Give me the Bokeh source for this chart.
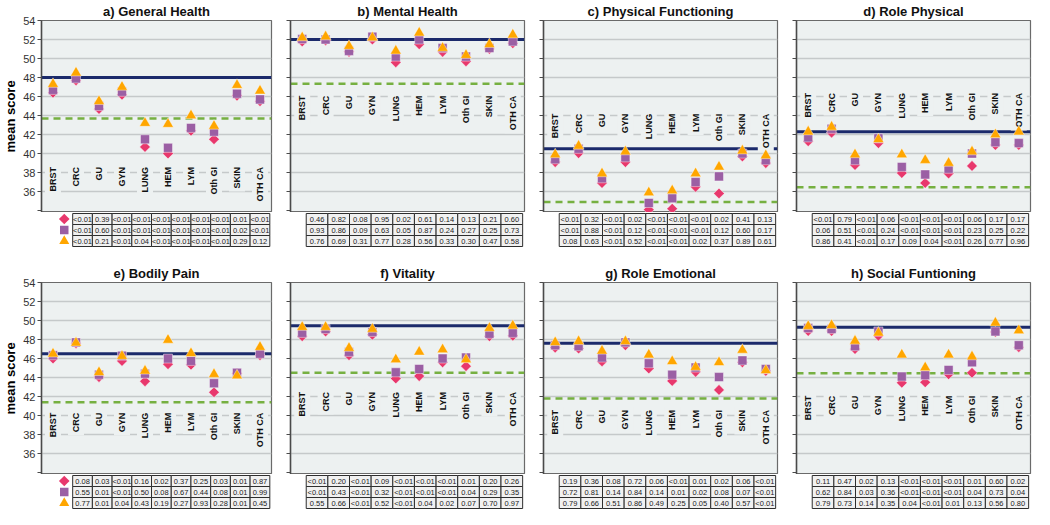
import math
from bokeh.plotting import figure
from bokeh.models import Range1d, FactorRange, FixedTicker, Span, Spacer
from bokeh.layouts import column, row
from bokeh.core.properties import value
from bokeh.embed import file_html
from bokeh.resources import INLINE

# ---------------- data ----------------
categories = ["BRST", "CRC", "GU", "GYN", "LUNG", "HEM", "LYM", "Oth GI", "SKIN", "OTH CA"]
panel_titles = ["a) General Health", "b) Mental Health", "c) Physical Functioning", "d) Role Physical",
                "e) Bodily Pain", "f) Vitality", "g) Role Emotional", "h) Social Funtioning"]
y_ticks = [34, 36, 38, 40, 42, 44, 46, 48, 50, 52, 54]
y_tick_labels = ["", "36", "38", "40", "42", "44", "46", "48", "50", "52", "54"]

# solid navy reference line and green dashed reference line, per panel
reference_solid = [48.0, 52.0, 40.5, 42.3, 46.5, 49.45, 47.6, 49.3]
reference_dashed = [43.7, 47.35, 34.9, 36.45, 41.4, 44.5, 41.8, 44.45]

# a) General Health
gh_diamond = [46.4, 47.7, 44.7, 46.2, 40.7, 40.0, 42.4, 41.5, 46.1, 45.5]
gh_square = [46.7, 47.9, 45.0, 46.5, 41.5, 40.6, 42.7, 42.3, 46.3, 45.7]
gh_triangle = [47.3, 48.5, 45.5, 47.0, 43.2, 43.1, 44.0, 42.9, 47.2, 46.6]
gh_p_diamond = ["<0.01", "0.39", "<0.01", "<0.01", "<0.01", "<0.01", "<0.01", "<0.01", "0.01", "<0.01"]
gh_p_square = ["<0.01", "0.60", "<0.01", "<0.01", "<0.01", "<0.01", "<0.01", "<0.01", "0.02", "<0.01"]
gh_p_triangle = ["<0.01", "0.21", "<0.01", "0.04", "<0.01", "<0.01", "<0.01", "<0.01", "0.29", "0.12"]

# b) Mental Health
mh_diamond = [51.8, 51.9, 50.7, 52.0, 49.6, 51.5, 50.7, 49.7, 51.0, 51.6]
mh_square = [52.05, 52.0, 50.8, 52.3, 50.2, 52.0, 51.1, 50.2, 51.1, 51.8]
mh_triangle = [52.2, 52.3, 51.3, 52.2, 50.8, 52.7, 51.1, 50.35, 51.5, 52.5]
mh_p_diamond = ["0.46", "0.82", "0.08", "0.95", "0.02", "0.61", "0.14", "0.13", "0.21", "0.60"]
mh_p_square = ["0.93", "0.86", "0.09", "0.63", "0.05", "0.87", "0.24", "0.27", "0.25", "0.73"]
mh_p_triangle = ["0.76", "0.69", "0.31", "0.77", "0.28", "0.56", "0.33", "0.30", "0.47", "0.58"]

# c) Physical Functioning
pf_diamond = [39.1, 40.05, 36.9, 39.1, 34.1, 34.2, 36.5, 35.8, 39.7, 39.0]
pf_square = [39.4, 40.5, 37.4, 39.6, 34.8, 35.3, 37.0, 37.6, 40.0, 39.3]
pf_triangle = [39.9, 40.8, 37.9, 40.2, 35.9, 36.1, 37.9, 38.6, 40.3, 39.8]
pf_p_diamond = ["<0.01", "0.32", "<0.01", "0.02", "<0.01", "<0.01", "<0.01", "0.02", "0.41", "0.13"]
pf_p_square = ["<0.01", "0.88", "<0.01", "0.12", "<0.01", "<0.01", "<0.01", "0.12", "0.60", "0.17"]
pf_p_triangle = ["0.08", "0.63", "<0.01", "0.52", "<0.01", "<0.01", "0.02", "0.37", "0.89", "0.61"]

# d) Role Physical
rp_diamond = [41.3, 42.2, 38.8, 41.1, 37.95, 36.9, 37.9, 38.7, 40.9, 40.9]
rp_square = [41.7, 42.6, 39.3, 41.6, 38.6, 37.8, 38.4, 40.0, 41.2, 41.1]
rp_triangle = [42.3, 42.8, 39.9, 41.5, 39.9, 39.3, 39.0, 40.2, 42.0, 42.3]
rp_p_diamond = ["<0.01", "0.79", "<0.01", "0.06", "<0.01", "<0.01", "<0.01", "0.06", "0.17", "0.17"]
rp_p_square = ["0.06", "0.51", "<0.01", "0.24", "<0.01", "<0.01", "<0.01", "0.23", "0.25", "0.22"]
rp_p_triangle = ["0.86", "0.41", "<0.01", "0.17", "0.09", "0.04", "<0.01", "0.26", "0.77", "0.96"]

# e) Bodily Pain
bp_diamond = [46.0, 47.6, 44.05, 45.75, 43.6, 45.4, 45.35, 42.45, 44.45, 46.35]
bp_square = [46.35, 47.7, 44.3, 46.3, 44.4, 46.0, 45.75, 43.4, 44.5, 46.5]
bp_triangle = [46.5, 47.65, 44.55, 46.25, 44.7, 47.95, 46.55, 44.35, 44.2, 47.2]
bp_p_diamond = ["0.08", "0.03", "<0.01", "0.16", "0.02", "0.37", "0.25", "0.03", "0.01", "0.87"]
bp_p_square = ["0.55", "0.01", "<0.01", "0.50", "0.08", "0.67", "0.44", "0.08", "0.01", "0.99"]
bp_p_triangle = ["0.77", "0.01", "0.04", "0.43", "0.19", "0.27", "0.93", "0.28", "0.01", "0.45"]

# f) Vitality
vt_diamond = [48.35, 48.85, 46.35, 48.5, 43.9, 44.15, 45.6, 45.2, 48.35, 48.4]
vt_square = [48.7, 49.1, 46.7, 48.8, 44.55, 44.9, 46.0, 46.1, 48.6, 48.7]
vt_triangle = [49.3, 49.3, 47.1, 49.1, 45.9, 46.7, 46.95, 45.9, 49.2, 49.45]
vt_p_diamond = ["<0.01", "0.20", "<0.01", "0.09", "<0.01", "<0.01", "<0.01", "0.01", "0.20", "0.26"]
vt_p_square = ["<0.01", "0.43", "<0.01", "0.32", "<0.01", "<0.01", "<0.01", "0.04", "0.29", "0.35"]
vt_p_triangle = ["0.55", "0.66", "<0.01", "0.52", "<0.01", "0.04", "0.02", "0.07", "0.70", "0.97"]

# g) Role Emotional
re_diamond = [47.15, 47.05, 45.7, 47.4, 44.95, 43.65, 44.6, 42.7, 45.6, 44.7]
re_square = [47.4, 47.3, 46.1, 47.7, 45.5, 44.3, 45.05, 44.05, 45.8, 44.9]
re_triangle = [47.7, 47.8, 46.8, 47.8, 46.4, 45.7, 45.1, 45.6, 46.9, 44.75]
re_p_diamond = ["0.19", "0.36", "0.08", "0.72", "0.06", "<0.01", "0.01", "0.02", "0.06", "<0.01"]
re_p_square = ["0.72", "0.81", "0.14", "0.84", "0.14", "0.01", "0.02", "0.08", "0.07", "<0.01"]
re_p_triangle = ["0.79", "0.66", "0.51", "0.86", "0.49", "0.25", "0.05", "0.40", "0.57", "<0.01"]

# h) Social Funtioning
sf_diamond = [48.9, 48.9, 47.0, 48.4, 43.45, 43.5, 44.35, 44.5, 48.8, 47.2]
sf_square = [49.2, 49.1, 47.3, 48.85, 44.1, 44.25, 44.8, 45.6, 48.85, 47.4]
sf_triangle = [49.4, 49.5, 47.85, 48.7, 46.4, 45.05, 46.4, 46.2, 49.75, 48.95]
sf_p_diamond = ["0.11", "0.47", "0.02", "0.13", "<0.01", "<0.01", "<0.01", "0.01", "0.60", "0.02"]
sf_p_square = ["0.62", "0.84", "0.03", "0.36", "<0.01", "<0.01", "<0.01", "0.04", "0.73", "0.04"]
sf_p_triangle = ["0.79", "0.73", "0.14", "0.35", "0.04", "<0.01", "0.01", "0.13", "0.56", "0.80"]

# where the rotated category names hang from (top of text), per panel
category_label_top = [38.9, 46.4, 44.5, 46.7, 40.6, 42.8, 40.9, 42.4]

# ---------------- style / layout ----------------
BG = "#edf1f1"
C_DIAMOND = "#e8386d"
C_SQUARE = "#9b5fa4"
C_TRIANGLE = "#ffa600"
C_SOLID = "#1b2a6b"
C_DASHED = "#76b041"
FRAME_W = 234
FRAME_H = 193
RIGHT = 2
TOP = 19
TABLE_ROW = 11
TABLE_H = 35
FONT = "Liberation Sans"

series = [
    (gh_diamond, gh_square, gh_triangle, gh_p_diamond, gh_p_square, gh_p_triangle),
    (mh_diamond, mh_square, mh_triangle, mh_p_diamond, mh_p_square, mh_p_triangle),
    (pf_diamond, pf_square, pf_triangle, pf_p_diamond, pf_p_square, pf_p_triangle),
    (rp_diamond, rp_square, rp_triangle, rp_p_diamond, rp_p_square, rp_p_triangle),
    (bp_diamond, bp_square, bp_triangle, bp_p_diamond, bp_p_square, bp_p_triangle),
    (vt_diamond, vt_square, vt_triangle, vt_p_diamond, vt_p_square, vt_p_triangle),
    (re_diamond, re_square, re_triangle, re_p_diamond, re_p_square, re_p_triangle),
    (sf_diamond, sf_square, sf_triangle, sf_p_diamond, sf_p_square, sf_p_triangle),
]


def add_markers(fig, x, y1, y2, y3):
    fig.scatter(x=x, y=y1, marker="square", angle=math.pi / 4, size=7.5,
                fill_color=C_DIAMOND, line_color="white", line_width=0.6, line_alpha=0.7)
    fig.scatter(x=x, y=y2, marker="square", size=9,
                fill_color=C_SQUARE, line_color="white", line_width=0.6, line_alpha=0.7)
    fig.scatter(x=x, y=y3, marker="triangle", size=11,
                fill_color=C_TRIANGLE, line_color="white", line_width=0.6, line_alpha=0.7)


def make_panel(i):
    d1, d2, d3, p1, p2, p3 = series[i]
    first_col = (i % 4 == 0)
    left = 37 if first_col else 17
    width = left + FRAME_W + RIGHT
    n = len(categories)

    p = figure(width=width, height=TOP + FRAME_H, title=panel_titles[i],
               x_range=FactorRange(*categories), y_range=Range1d(33.8, 54),
               output_backend="svg", toolbar_location=None,
               min_border_left=left, min_border_right=RIGHT, min_border_top=TOP,
               min_border_bottom=0, x_axis_location=None,
               background_fill_color=BG, border_fill_color="white",
               outline_line_color="#6a6a6a", outline_line_width=1.2)
    p.title.align = "center"
    p.title.text_font = FONT
    p.title.text_font_size = "13px"
    p.title.text_font_style = "bold"
    p.title.text_color = "#111111"
    p.title.standoff = 3

    ax = p.yaxis[0]
    ax.ticker = FixedTicker(ticks=y_ticks)
    if first_col:
        ax.major_label_overrides = {t: lab for t, lab in zip(y_ticks, y_tick_labels)}
        ax.axis_label = "mean score"
        ax.axis_label_text_font = FONT
        ax.axis_label_text_font_style = "bold"
        ax.axis_label_text_font_size = "13px"
        ax.axis_label_text_color = "#000000"
        ax.axis_label_standoff = 2
    else:
        ax.major_label_overrides = {t: "" for t in y_ticks}
    ax.major_label_text_font = FONT
    ax.major_label_text_font_size = "11px"
    ax.major_label_text_color = "#333333"
    ax.major_label_standoff = 2
    ax.major_tick_out = 4
    ax.major_tick_in = 0
    ax.minor_tick_out = 0
    ax.minor_tick_in = 0
    ax.axis_line_color = "#4a4a4a"
    ax.axis_line_width = 1.5
    ax.major_tick_line_color = "#4a4a4a"

    p.xgrid.visible = False
    p.ygrid.ticker = FixedTicker(ticks=[t for t in y_ticks if 34 < t < 54])
    p.ygrid.grid_line_color = "#c5c9ca"
    p.ygrid.grid_line_width = 1.5

    p.add_layout(Span(location=reference_solid[i], dimension="width", line_color=C_SOLID,
                      line_width=3, level="underlay"))
    p.add_layout(Span(location=reference_dashed[i], dimension="width", line_color=C_DASHED,
                      line_width=2.5, line_dash="7 5", level="underlay"))

    p.text(x=categories, y=[category_label_top[i]] * n, text=categories,
           angle=math.pi / 2, text_align="right", text_baseline="middle",
           text_font=value(FONT), text_font_style="bold", text_font_size="9px",
           text_color="#111111", background_fill_color=BG, padding=3)

    add_markers(p, categories, d1, d2, d3)

    # ---- p-value table ----
    cw = FRAME_W / n
    pad = 1.0 / TABLE_ROW
    t = figure(width=width, height=TABLE_H,
               x_range=Range1d(-left / cw, n + RIGHT / cw), y_range=Range1d(-pad, 3 + pad),
               output_backend="svg", toolbar_location=None, min_border=0,
               x_axis_location=None, y_axis_location=None, outline_line_color=None,
               background_fill_color="white", border_fill_color="white")
    t.grid.visible = False
    xs = [k + 0.5 for k in range(n)] * 3
    ys = [2.5] * n + [1.5] * n + [0.5] * n
    texts = p1 + p2 + p3
    t.rect(x=xs, y=ys, width=1, height=1, fill_color="#f1f1f1",
           line_color="#2e2e2e", line_width=1)
    t.text(x=xs, y=ys, text=texts, text_align="center", text_baseline="middle",
           text_font=value(FONT), text_font_size="7.5px", text_color="#222222")
    if first_col:
        lx = -10.0 / cw
        t.scatter(x=[lx], y=[2.5], marker="square", angle=math.pi / 4, size=7.5,
                  fill_color=C_DIAMOND, line_color=None)
        t.scatter(x=[lx], y=[1.5], marker="square", size=8.5,
                  fill_color=C_SQUARE, line_color=None)
        t.scatter(x=[lx], y=[0.5], marker="triangle", size=10,
                  fill_color=C_TRIANGLE, line_color=None)
    return column(p, t, spacing=0)


panels = [make_panel(i) for i in range(8)]
layout = column(row(*panels[:4], spacing=0), Spacer(height=15), row(*panels[4:], spacing=0), spacing=0)

open("out.html", "w").write(file_html(layout, INLINE))
